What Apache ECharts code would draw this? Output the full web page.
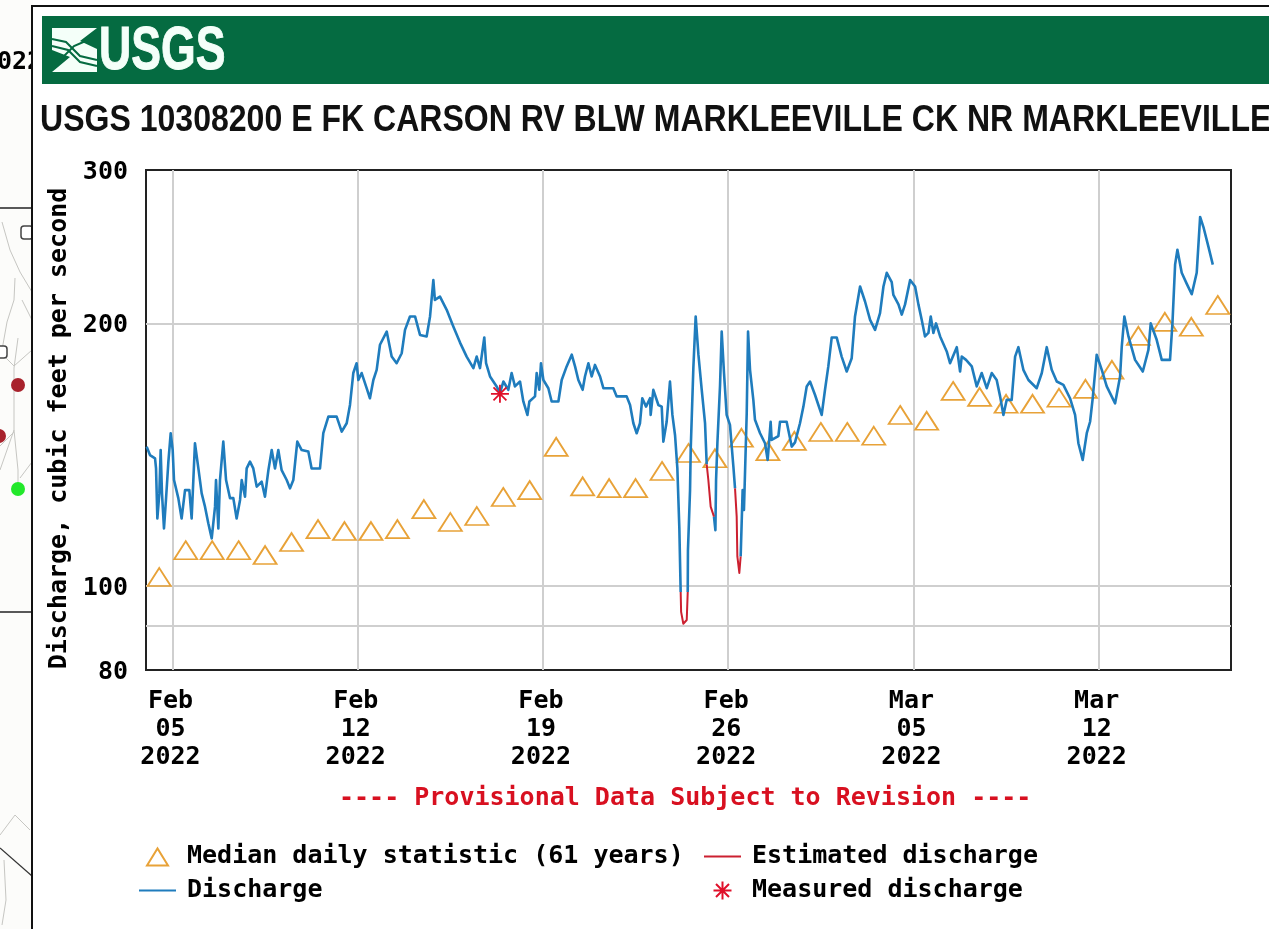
<!DOCTYPE html>
<html><head><meta charset="utf-8">
<script src="https://cdn.jsdelivr.net/npm/echarts@6/dist/echarts.min.js"></script>
<style>html,body{margin:0;padding:0;background:#fff;overflow:hidden}#c{width:1269px;height:929px}</style>
</head><body><div id="c"></div>
<script>
const siteTitle = "USGS 10308200 E FK CARSON RV BLW MARKLEEVILLE CK NR MARKLEEVILLE";
const provisional = "---- Provisional Data Subject to Revision ----";
const yAxisName = "Discharge, cubic feet per second";
const yLabelValues = [80, 100, 200, 300];
const yGridValues = [90, 100, 200];
const xTickDates = ["2022-02-05", "2022-02-12", "2022-02-19", "2022-02-26", "2022-03-05", "2022-03-12"];
const startDate = "2022-02-04";
const endDate = "2022-03-17";
const medianValues = [102.3,109.8,109.8,109.8,108.4,112.2,116.1,115.5,115.5,116.1,122.4,118.3,120.2,126.4,128.7,144.3,130,129.4,129.4,135.4,142,140,147.8,142.7,146.6,150.1,150.1,148.6,157,154.6,167.3,164.7,161.7,161.7,164.3,168.2,176.9,193.5,200.8,198.2,210];
const dischargeHours = [0.6,3.6,8.2,9.1,10.3,12.1,13.3,14.5,16.3,18.1,20.3,22.4,24.2,25.4,29.3,32.3,35.4,39.3,41.4,44.4,47.5,50.5,53.5,56.5,59.6,62.6,63.5,65.6,67.1,70.1,72.6,76.2,79.2,82.2,85.3,86.8,89.8,91.3,94.3,97.3,100.4,104.9,107.9,111,114,117,120,123,127.6,130.6,133.6,137.2,141.2,147.2,150.2,157.8,160.8,165.4,172.9,177.5,182,185,188,191,192.6,195.6,200.1,203.1,206.2,209.2,212.2,218.3,222.8,227.3,231.9,234.9,239.4,244,248.5,254.5,257.6,260.6,262,266.6,272.7,278.7,284.8,290.8,296.9,299.9,302.9,306.8,308.4,312,318,321,324.1,328.6,331.6,334.6,339.2,342.2,345.9,347.7,352.8,354.3,356.7,358.2,360.4,364.9,367.9,374,377,381.5,386.1,389.1,392.1,396,398.1,401.2,404.2,407.2,411.8,414.8,423.8,426.9,435.9,439,442,445,448,450.1,453.5,457.1,457.7,460.1,464.7,467.7,469.2,472.2,475.2,477.4,479.8,481.9,483.7,484.9,485,491.2,491.3,491.5,493.4,494,496.4,498.5,500,501,504,507,508.5,508.6,515,515.1,516.4,517,518.2,520.6,522.1,524.2,526.6,529.6,532.7,534.2,534.3,539.2,539.3,541.1,542.3,544.8,546,547.8,550.8,552.3,556.9,561.4,563.8,566.5,567.4,573.5,575,581,585.6,588.6,593.1,596.2,599.2,602.2,606.7,609.8,612.8,615.8,618.8,621.9,626.4,630.9,635.5,640,643,647.6,652.1,656.7,661.2,665.7,668.8,671.8,676.3,677.8,682.4,685.4,688.4,693,697.5,700.5,703.5,706.5,709.6,711.7,714.1,716.5,720.2,726.2,729.2,735.3,738.3,739.8,743.7,748.9,753.4,757.9,762.5,767,771.5,774.6,777.6,780.6,785.1,788.2,791.2,795.7,800.3,807.8,812.4,816.9,821.4,826,832,838,842.6,845.6,849.5,853.2,856.2,858.6,862.2,866.8,871.3,878.9,883.4,884.9,887.3,891,897,904,909.1,911.2,916.6,921.2,928.7,930.9,933.3,935.4,939.3,943.9,948.4,952.9,956,959,963.5,967.5];
const dischargeCfs = [144.4,141.2,140,136.3,119.4,127.6,143.1,127.6,116.3,125.4,138.8,149.6,143.1,132.2,126,119.4,128.7,128.7,119.4,145.7,136.3,127.6,123.2,117.9,113.3,123.2,132.2,116.3,132.2,146.3,132.2,126,126,119.4,125.4,132.2,126.5,136.3,138.8,136.3,129.9,131.6,126.5,135.7,143.1,136.3,143.1,135.7,132.2,129.3,132.2,146.3,143.1,142.5,136.3,136.3,149.6,156.3,156.3,150.2,153.6,161.2,175.4,180,172.2,175.4,168.5,164.1,172.2,176.9,189,195.7,183.2,180,184.8,196.6,203.7,203.7,194,193.2,203.7,224.3,212.8,214.7,207.3,198.4,190.1,183.2,177.7,183.2,177.7,192.7,180,173.8,169.3,166.3,171.5,167.8,175.4,169.3,171.5,162.7,157,162.7,164.9,175.4,167.8,180,172.2,168.5,162.7,162.7,172.2,178.5,184.1,178.5,172.2,167.8,173.8,180,173.8,179.2,173.8,168.5,168.5,164.9,164.9,161.2,153.6,149.6,153.6,164.1,160.5,164.1,157,167.8,161.2,160.5,146.3,154.2,171.5,157,148.8,136.3,116.3,98.3,null,null,98.3,109.8,128.7,143.1,177.7,203.7,203.7,184.1,167.8,153.6,137.8,null,null,120,115.8,132.2,145.7,169.7,195.7,175.4,157,152.9,137,129.3,null,null,108,128.7,122.1,157.7,195.7,176.9,163.4,155,149.6,145.7,139.4,154.2,147,148.5,154.2,154.2,144.4,146,153.6,160.5,169.3,171.5,165.6,161.2,157,167.8,178.5,192.7,192.7,183.2,176.1,182.4,203.7,220.5,211.9,201.9,196.6,205.5,220.5,228.6,223,215.6,210.3,204.7,210.3,224.3,220.5,210.3,201.9,193.2,195,203.7,195,200,193.2,185.7,180,187.8,176.1,183.2,181.6,178.5,169.3,175.4,168.5,175.4,172.2,164.9,157,163.4,163.4,183.2,187.8,176.9,172.2,168.5,175.4,187.8,176.9,171.5,170,164.1,157,145.7,139.4,149.6,154.2,164.1,184.1,176.9,169.3,161.9,173.8,187.8,203.7,193.2,181.6,176.1,186.5,200,191.5,181.6,181.6,200,233.6,243,228.6,222,216,228.6,265,258,245,233.6];
const estimatedHours = [484.9,485.3,487.3,490.4,491.3,491.4,508.5,510,512.1,515.1,515.2,534.2,535.7,536.3,538.1,539.3];
const estimatedCfs = [98.3,93.3,90.4,91.3,98.3,null,137.8,132.2,123.2,120,null,129.3,120,108,103.4,108];
const measuredHours = [321];
const measuredCfs = [166];

const HOUR = 3600e3;
const t0 = Date.parse(startDate + "T00:00:00Z");
const toPairs = (hs, vs) => hs.map((h, i) => [t0 + h * HOUR, vs[i]]);
const MONO = '"DejaVu Sans Mono", monospace';
const BLUE = '#1f7cbd', RED = '#cc2030', ORANGE = '#e8a238';
const STAR = 'path://M0,-10L0,10M-10,0L10,0M-7.2,-7.2L7.2,7.2M-7.2,7.2L7.2,-7.2';
const TRI_ICON = 'path://M8,18L18.5,1L29,18Z M0,9L0,9 M37,9L37,9 M18,0L18,0';
const STAR_ICON = 'path://M18.5,0L18.5,18M9.5,9L27.5,9M12,2.5L25,15.5M12,15.5L25,2.5 M0,9L0,9 M37,9L37,9';
const NO_MARK = {color: 'transparent', borderColor: 'transparent', borderWidth: 0};
const txt = {fontFamily: MONO, fontWeight: 'bold', fontSize: 25, color: '#000'};

function poly(points, stroke, w, z) {
  return {type: 'polyline', z: z === undefined ? -1 : z, silent: true, shape: {points}, style: {stroke, lineWidth: w, fill: null}};
}
const mapLines = [
  [[2,222],[10,250],[20,272],[32,292]], [[15,278],[14,300],[7,322],[2,350]],
  [[18,338],[14,368],[14,430],[18,470],[18,489]], [[14,366],[0,352]], [[14,432],[0,446]],
  [[14,366],[32,350]], [[20,478],[32,462]], [[0,470],[14,430]], [[0,835],[15,815],[30,830]],
  [[4,860],[6,900],[2,925]], [[22,300],[32,320]]
];
const graphics = [
  {type:'rect', z:-3, silent:true, shape:{x:0,y:0,width:33,height:929}, style:{fill:'#fcfcfa'}},
  {type:'text', z:-2, silent:true, x:-3, y:50, style:{text:'022', font:'bold 25px '+MONO, fill:'#000'}},
  ...mapLines.map(p => poly(p, '#c6c6c2', 1, -2)),
  poly([[0,848],[32,876]], '#333', 1.2, -2),
  {type:'circle', z:-2, silent:true, shape:{cx:18,cy:385,r:7}, style:{fill:'#a8222c'}},
  {type:'circle', z:-2, silent:true, shape:{cx:-1,cy:436,r:7}, style:{fill:'#a8222c'}},
  {type:'circle', z:-2, silent:true, shape:{cx:18,cy:489,r:7}, style:{fill:'#22e82a'}},
  {type:'rect', z:-2, silent:true, shape:{x:21,y:226,width:12,height:13,r:3}, style:{fill:'#fff',stroke:'#444',lineWidth:1.5}},
  {type:'rect', z:-2, silent:true, shape:{x:-6,y:346,width:13,height:12,r:3}, style:{fill:'#fff',stroke:'#444',lineWidth:1.5}},
  poly([[0,208],[32,208]], '#222', 1.5, -2), poly([[0,612],[32,612]], '#222', 1.5, -2),
  {type:'rect', z:-1, silent:true, shape:{x:33,y:7,width:1240,height:925}, style:{fill:'#fff'}},
  poly([[32,929],[32,6],[1269,6]], '#111', 2, -1),
  {type:'rect', z:-1, silent:true, shape:{x:42,y:16,width:1227,height:68}, style:{fill:'#056b41'}},
  {type:'polygon', z:0, silent:true, shape:{points:[[52,28],[97,28],[80,41],[97,49],[97,72],[52,72],[70,57],[52,50]]}, style:{fill:'#f4fff9'}},
  poly([[52,39],[66,42],[80,56],[97,60]], '#056b41', 2, 1), poly([[52,46],[68,50],[80,62],[97,66]], '#056b41', 2, 1),
  poly([[60,60],[74,46],[88,40]], '#056b41', 2, 1),
  {type:'text', z:1, silent:true, x:99, y:21, scaleX:0.72, style:{text:'USGS', font:'bold 62px "Liberation Sans"', fill:'#f4fff9', stroke:'#f4fff9', lineWidth:1}},
  {type:'text', z:0, silent:true, x:40, y:103, scaleX:0.89, style:{text:siteTitle, font:'bold 36px "Liberation Sans"', fill:'#111'}},
  {type:'text', z:1, silent:true, x:339, y:786, style:{text:provisional, font:'bold 25px '+MONO, fill:'#d81020'}}
];

const option = {
  animation: false,
  backgroundColor: '#fff',
  graphic: {elements: graphics},
  grid: {left: 146, right: 38, top: 170, height: 500, show: true, borderColor: '#222', borderWidth: 2, backgroundColor: 'transparent'},
  xAxis: {
    type: 'time', min: t0, max: Date.parse(endDate + "T00:00:00Z"),
    axisLine: {show: false},
    axisTick: {show: false, customValues: xTickDates.map(d => Date.parse(d + "T00:00:00Z"))},
    axisLabel: {
      customValues: xTickDates.map(d => Date.parse(d + "T00:00:00Z")),
      formatter: '{MMM}\n{dd}\n{yyyy}', margin: 17, lineHeight: 28, hideOverlap: false, showMinLabel: true, showMaxLabel: true, padding: [0, 4, 0, 0], ...txt
    },
    splitLine: {show: true, lineStyle: {color: '#cfcfcf', width: 2}}
  },
  yAxis: {
    type: 'log', logBase: 10, min: 80, max: 300,
    name: yAxisName, nameLocation: 'middle', nameRotate: 90, nameGap: 74,
    nameTextStyle: {...txt, padding: [0, 17, 0, 0]},
    axisLine: {show: false},
    axisTick: {show: false, customValues: yGridValues},
    axisLabel: {customValues: yLabelValues, margin: 18, formatter: v => '{a|' + Math.round(v) + '}',
      rich: {a: {...txt, padding: [5, 0, 0, 0]}}, ...txt},
    splitLine: {show: true, lineStyle: {color: '#cfcfcf', width: 2}},
    minorSplitLine: {show: false}
  },
  legend: [
    {left: 138, top: 844, padding: 0, orient: 'vertical', itemWidth: 37, itemHeight: 18, itemGap: 9, selectedMode: false,
     textStyle: {...txt, padding: [0,0,0,6]},
     data: [{name: 'Median daily statistic (61 years)', icon: TRI_ICON}, {name: 'Discharge', itemStyle: NO_MARK}]},
    {left: 703, top: 844, padding: 0, orient: 'vertical', itemWidth: 37, itemHeight: 18, itemGap: 9, selectedMode: false,
     textStyle: {...txt, padding: [0,0,0,6]},
     data: [{name: 'Estimated discharge', itemStyle: NO_MARK}, {name: 'Measured discharge', icon: STAR_ICON}]}
  ],
  series: [
    {name: 'Median daily statistic (61 years)', type: 'scatter', z: 2, symbol: 'triangle', symbolSize: [23, 18],
     itemStyle: {color: 'rgba(255,255,255,0)', borderColor: ORANGE, borderWidth: 1.8, opacity: 1},
     data: medianValues.map((v, i) => [t0 + (12 + 24 * i) * HOUR, v])},
    {name: 'Discharge', type: 'line', z: 3, showSymbol: false, symbol: 'none', connectNulls: false,
     lineStyle: {color: BLUE, width: 2.6, join: 'round'}, itemStyle: {color: BLUE},
     data: toPairs(dischargeHours, dischargeCfs)},
    {name: 'Estimated discharge', type: 'line', z: 4, showSymbol: false, symbol: 'none', connectNulls: false,
     lineStyle: {color: RED, width: 2, join: 'round'}, itemStyle: {color: RED},
     data: toPairs(estimatedHours, estimatedCfs)},
    {name: 'Measured discharge', type: 'scatter', z: 5, symbol: STAR, symbolSize: 18,
     itemStyle: {color: 'rgba(255,255,255,0)', borderColor: '#e0102a', borderWidth: 1.8, opacity: 1},
     data: toPairs(measuredHours, measuredCfs)}
  ]
};
const chart = echarts.init(document.getElementById('c'), null, {renderer: 'canvas', useUTC: true});
chart.setOption(option);
</script></body></html>
